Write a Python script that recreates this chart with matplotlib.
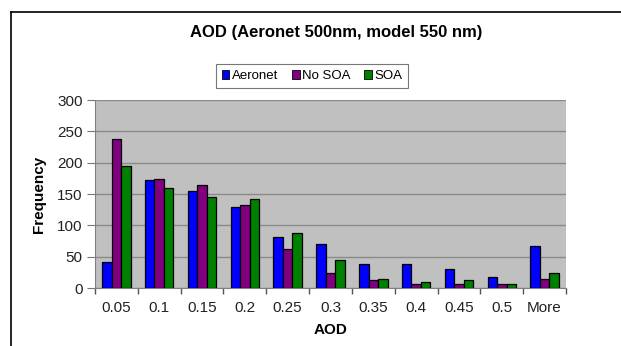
import numpy as np
import matplotlib
matplotlib.use("Agg")
import matplotlib.pyplot as plt
from matplotlib.lines import Line2D
from matplotlib.patches import Patch

# Datos
categorias = ["0.05", "0.1", "0.15", "0.2", "0.25", "0.3", "0.35", "0.4", "0.45", "0.5", "More"]
aeronet = [41, 172, 154, 130, 82, 70, 38, 39, 31, 18, 67]
no_soa = [238, 174, 164, 133, 63, 24, 12, 6, 6, 6, 14]
soa = [195, 160, 146, 142, 88, 45, 14, 10, 12, 6, 24]
series = ["Aeronet", "No SOA", "SOA"]
colores = ["#0000FF", "#800080", "#008000"]
yticks = [0, 50, 100, 150, 200, 250, 300]

plt.rcParams['font.family'] = ['Liberation Sans', 'DejaVu Sans']

W, H = 621, 346
fig = plt.figure(figsize=(W / 100, H / 100), dpi=100)
ax = fig.add_axes([95 / W, 1 - 288 / H, (566 - 95) / W, (288 - 100) / H])
ax.set_facecolor("#C0C0C0")

x = np.arange(len(categorias))
w = 0.222
for i, (vals, col) in enumerate(zip([aeronet, no_soa, soa], colores)):
    ax.bar(x + (i - 1) * w, vals, width=w, color=col, edgecolor="black",
           linewidth=0.9, zorder=3)

ax.set_xlim(-0.5, len(categorias) - 0.5)
ax.set_ylim(0, 300)
ax.set_yticks(yticks)
ax.yaxis.grid(True, color="#8a8a8a", linewidth=1.0, zorder=0)
ax.set_axisbelow(True)

# etiquetas en el centro, marcas entre categorias
ax.set_xticks(x)
ax.set_xticklabels(categorias, fontsize=11, color="#222222")
ax.tick_params(axis="x", length=0, pad=9)
ax.set_xticks(np.arange(-0.5, len(categorias)), minor=True)
ax.tick_params(axis="x", which="minor", length=4, color="#555555", width=1)
ax.tick_params(axis="y", length=6, color="#777777", labelsize=11,
               labelcolor="#222222", pad=3)

for s in ["top", "right"]:
    ax.spines[s].set_visible(False)
ax.spines["left"].set_color("#808080")
ax.spines["bottom"].set_color("#808080")

ax.set_xlabel("AOD", fontsize=11, fontweight="bold", labelpad=6)
ax.set_ylabel("Frequency", fontsize=11, fontweight="bold", labelpad=8)

fig.text(336 / W, 1 - 33 / H, "AOD (Aeronet 500nm, model 550 nm)",
         ha="center", va="center", fontsize=12, fontweight="bold")

handles = [Patch(facecolor=c, edgecolor="black", linewidth=0.6) for c in colores]
leg = fig.legend(handles, series, loc="center", bbox_to_anchor=(312 / W, 1 - 76 / H),
                 ncol=3, fontsize=9.5, frameon=True, fancybox=False,
                 handlelength=0.6, handleheight=0.6, handletextpad=0.2,
                 columnspacing=1.0, borderpad=0.45, edgecolor="#555555")
leg.get_frame().set_linewidth(0.8)

# borde exterior del area del grafico
fig.add_artist(Line2D([11 / W, 11 / W], [0, 1 - 12 / H], color="black", linewidth=1.2))
fig.add_artist(Line2D([11 / W, 1], [1 - 12 / H, 1 - 12 / H], color="black", linewidth=1.2))

fig.savefig("out.png", dpi=100)
